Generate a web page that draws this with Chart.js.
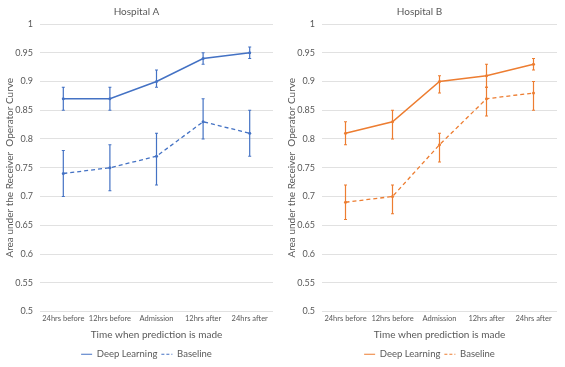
<!DOCTYPE html>
<html><head><meta charset="utf-8">
<script src="https://cdn.jsdelivr.net/npm/chart.js@4/dist/chart.umd.min.js"></script>
<style>
html,body{margin:0;padding:0;background:#fff;}
.w{position:absolute;top:0;height:367px;}
#wa{left:0;width:282px;}
#wb{left:282px;width:283px;}
</style></head><body>
<div class="w" id="wa"><canvas id="ca"></canvas></div>
<div class="w" id="wb"><canvas id="cb"></canvas></div>
<script>
const categories = ['24hrs before','12hrs before','Admission','12hrs after','24hrs after'];
const yTicks = [0.5,0.55,0.6,0.65,0.7,0.75,0.8,0.85,0.9,0.95,1];

const aDeep = [0.87,0.87,0.90,0.94,0.95];
const aDeepLow = [0.85,0.85,0.89,0.93,0.94];
const aDeepHigh = [0.89,0.89,0.92,0.95,0.96];
const aBase = [0.74,0.75,0.77,0.83,0.81];
const aBaseLow = [0.70,0.71,0.72,0.80,0.77];
const aBaseHigh = [0.78,0.79,0.81,0.87,0.85];

const bDeep = [0.81,0.83,0.90,0.91,0.93];
const bDeepLow = [0.79,0.80,0.88,0.89,0.92];
const bDeepHigh = [0.83,0.85,0.91,0.93,0.94];
const bBase = [0.69,0.70,0.79,0.87,0.88];
const bBaseLow = [0.66,0.67,0.76,0.84,0.85];
const bBaseHigh = [0.72,0.72,0.81,0.89,0.90];

const FONT = 'Lato, "Open Sans", sans-serif';
const TXT = '#595959';

const errPlugin = {
  id: 'errbars',
  afterLayout(chart) {
    if (chart.legend) { chart.legend.left += 10; chart.legend.right += 10; }
  },
  afterDatasetsDraw(chart) {
    const ctx = chart.ctx, xs = chart.scales.x, ys = chart.scales.y;
    chart.data.datasets.forEach(ds => {
      if (!ds.errLow) return;
      ctx.save();
      ctx.strokeStyle = ds.borderColor;
      ctx.lineWidth = 1.2;
      ctx.setLineDash([]);
      ds.data.forEach((v, i) => {
        const x = xs.getPixelForValue(i);
        const y1 = ys.getPixelForValue(ds.errLow[i]);
        const y2 = ys.getPixelForValue(ds.errHigh[i]);
        ctx.beginPath();
        ctx.moveTo(x, y1); ctx.lineTo(x, y2);
        ctx.moveTo(x - 1.5, y1); ctx.lineTo(x + 1.5, y1);
        ctx.moveTo(x - 1.5, y2); ctx.lineTo(x + 1.5, y2);
        ctx.stroke();
      });
      ctx.restore();
    });
  }
};

function makeChart(id, title, color, deep, dLow, dHigh, base, bLow, bHigh, padRight) {
  return new Chart(document.getElementById(id), {
    type: 'line',
    data: {
      labels: categories,
      datasets: [
        {label: 'Deep Learning', data: deep, errLow: dLow, errHigh: dHigh,
         borderColor: color, backgroundColor: color, borderWidth: 1.5,
         pointRadius: 1.5, pointBorderWidth: 0, pointBackgroundColor: color, tension: 0},
        {label: 'Baseline', data: base, errLow: bLow, errHigh: bHigh,
         borderColor: color, backgroundColor: color, borderWidth: 1.3, borderDash: [4,3],
         pointRadius: 1.5, pointBorderWidth: 0, pointBackgroundColor: color, tension: 0}
      ]
    },
    options: {
      responsive: true, maintainAspectRatio: false, animation: false,
      layout: {padding: {left: 0, right: padRight, top: 0, bottom: -2}},
      plugins: {
        title: {display: true, text: title, color: TXT, font: {family: FONT, size: 10, weight: 'normal'}, padding: {top: 6, bottom: 6}},
        legend: {position: 'bottom', labels: {color: TXT, font: {family: FONT, size: 9.5},
          usePointStyle: true, pointStyle: 'line', pointStyleWidth: 11, boxHeight: 6, padding: 4,
          generateLabels(chart) {
            return chart.data.datasets.map((ds, i) => ({
              text: ds.label, datasetIndex: i, fillStyle: ds.borderColor, strokeStyle: ds.borderColor,
              lineWidth: 1.2, lineDash: ds.borderDash ? [3,2] : [], pointStyle: 'line', fontColor: TXT, hidden: false
            }));
          }}},
        tooltip: {enabled: false}
      },
      scales: {
        x: {offset: true,
            afterFit(s) { s.height = 34; },
            grid: {display: false, drawTicks: false},
            border: {display: false},
            ticks: {color: TXT, font: {family: FONT, size: 7.5}, padding: 3, maxRotation: 0, autoSkip: false},
            title: {display: true, text: 'Time when prediction is made', color: TXT, font: {family: FONT, size: 10}, padding: {top: 0, bottom: 5}}},
        y: {min: 0.5, max: 1,
            afterFit(s) { s.width = 40; },
            afterBuildTicks(s) { s.ticks = yTicks.map(v => ({value: v})); },
            grid: {color: '#D9D9D9', drawTicks: false, lineWidth: 0.8},
            border: {display: false},
            ticks: {color: TXT, font: {family: FONT, size: 9}, padding: 7, callback: v => String(+v.toFixed(2))},
            title: {display: true, text: 'Area under the Receiver  Operator Curve', color: TXT, font: {family: FONT, size: 10}, padding: {top: 4, bottom: 0}}}
      }
    },
    plugins: [errPlugin]
  });
}

makeChart('ca', 'Hospital A', '#4472C4', aDeep, aDeepLow, aDeepHigh, aBase, aBaseLow, aBaseHigh, 9);
makeChart('cb', 'Hospital B', '#ED7D31', bDeep, bDeepLow, bDeepHigh, bBase, bBaseLow, bBaseHigh, 8);
</script>
</body></html>
